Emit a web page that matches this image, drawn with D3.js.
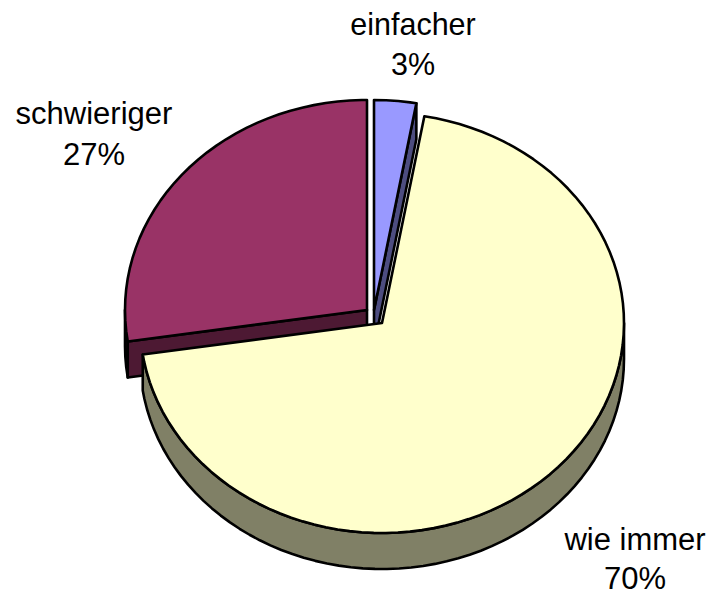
<!DOCTYPE html>
<html><head><meta charset="utf-8">
<script src="https://cdn.jsdelivr.net/npm/d3@7"></script>
<style>html,body{margin:0;padding:0;background:#fff}svg{display:block}</style>
</head><body><svg id="c" width="710" height="591"></svg>
<script>
const categories = ["einfacher", "wie immer", "schwieriger"];
const values = [2.8, 69.8, 27.4];
const topColors = ["#9999FF", "#FFFFCC", "#993366"];
const sideColors = ["#4D4D80", "#808066", "#4D1933"];
const centers = [[374, 310], [382, 323], [367, 310]];
const labelPos = [[413, 35, 75], [635, 550, 589], [94, 124, 165]];
const labelSizes = [30.5, 31, 31];
const rx = 242, ry = 210, depth = 36, step = 0.05;

const svg = d3.select("#c");
const arcs = d3.pie().value(d => d).sort(null)(values);
const line = d3.line();
const fmt = d3.format(".0f");
const proj = (i, a, dz = 0) => [
  centers[i][0] + rx * Math.sin(a),
  centers[i][1] - ry * Math.cos(a) + dz
];
const rim = (s, e, i, dz = 0) => {
  const pts = d3.range(s, e, step).map(a => proj(i, a, dz));
  pts.push(proj(i, e, dz));
  return pts;
};
const style = (sel, fill) => sel.attr("fill", fill).attr("stroke", "#000")
  .attr("stroke-width", 2.6).attr("stroke-linejoin", "round");

[2, 0, 1].forEach(i => {
  const { startAngle: s, endAngle: e } = arcs[i];
  const c = centers[i];
  const g = svg.append("g");
  const ws = Math.max(s, Math.PI / 2), we = Math.min(e, 3 * Math.PI / 2);
  if (we > ws) {
    const top = rim(ws, we, i), bot = rim(ws, we, i, depth).reverse();
    style(g.append("path").attr("d", line(top.concat(bot)) + "Z"), sideColors[i]);
  }
  if (i === 2) {
    const p = proj(i, s), q = [c[0], c[1]];
    style(g.append("path").attr("d", line([p, q, [q[0], q[1] + depth], [p[0], p[1] + depth]]) + "Z"), sideColors[i]);
  }
  if (i === 0) {
    const p = proj(i, e), q = [c[0], c[1]];
    style(g.append("path").attr("d", line([q, p, [p[0], p[1] + depth], [q[0], q[1] + depth]]) + "Z"), sideColors[i]);
  }
  style(g.append("path").attr("d", line([c].concat(rim(s, e, i))) + "Z"), topColors[i]);
});

categories.forEach((name, i) => {
  const [x, y1, y2] = labelPos[i];
  const t = svg.append("text").attr("text-anchor", "middle")
    .attr("font-family", "Liberation Sans, Arial, sans-serif")
    .attr("font-size", labelSizes[i]).attr("fill", "#000");
  t.append("tspan").attr("x", x).attr("y", y1).text(name);
  t.append("tspan").attr("x", x).attr("y", y2).text(fmt(values[i]) + "%");
});
</script></body></html>
